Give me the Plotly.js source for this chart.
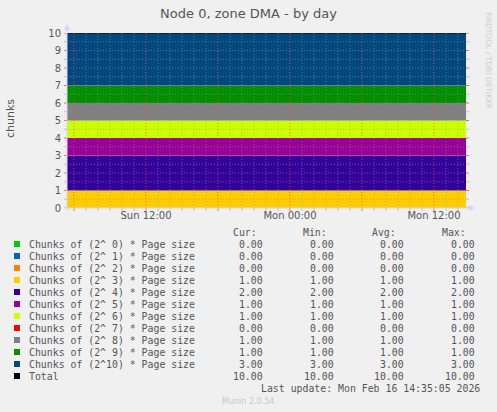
<!DOCTYPE html>
<html>
<head>
<meta charset="utf-8">
<script src="https://cdn.plot.ly/plotly-3.0.1.min.js"></script>
<style>
html,body{margin:0;padding:0;background:#F0F0F0;}
#chart{width:497px;height:412px;}
</style>
</head>
<body>
<div id="chart"></div>
<script>
// ---- data ----
const times = ["2026-02-15 05:25", "2026-02-16 14:40"];
const seriesLabels = [
  "Chunks of (2^ 0) * Page size",
  "Chunks of (2^ 1) * Page size",
  "Chunks of (2^ 2) * Page size",
  "Chunks of (2^ 3) * Page size",
  "Chunks of (2^ 4) * Page size",
  "Chunks of (2^ 5) * Page size",
  "Chunks of (2^ 6) * Page size",
  "Chunks of (2^ 7) * Page size",
  "Chunks of (2^ 8) * Page size",
  "Chunks of (2^ 9) * Page size",
  "Chunks of (2^10) * Page size"
];
const seriesColors = ["#00CC00","#0066B3","#FF8000","#FFCC00","#330099","#990099","#CCFF00","#FF0000","#808080","#008F00","#00487D"];
const order0  = [0, 0];
const order1  = [0, 0];
const order2  = [0, 0];
const order3  = [1, 1];
const order4  = [2, 2];
const order5  = [1, 1];
const order6  = [1, 1];
const order7  = [0, 0];
const order8  = [1, 1];
const order9  = [1, 1];
const order10 = [3, 3];
const totalValues = [10, 10];
const curValues = ["0.00","0.00","0.00","1.00","2.00","1.00","1.00","0.00","1.00","1.00","3.00","10.00"];
const minValues = ["0.00","0.00","0.00","1.00","2.00","1.00","1.00","0.00","1.00","1.00","3.00","10.00"];
const avgValues = ["0.00","0.00","0.00","1.00","2.00","1.00","1.00","0.00","1.00","1.00","3.00","10.00"];
const maxValues = ["0.00","0.00","0.00","1.00","2.00","1.00","1.00","0.00","1.00","1.00","3.00","10.00"];
const tickVals = ["2026-02-15 12:00", "2026-02-16 00:00", "2026-02-16 12:00"];
const tickLabels = ["Sun 12:00", "Mon 00:00", "Mon 12:00"];
const yTicks = [0,1,2,3,4,5,6,7,8,9,10];

// ---- layout helpers ----
const W = 497, H = 412;
const L = 67, R = 466, T = 33, B = 208;
const px = p => (p - L) / (R - L);
const py = p => (B - p) / (B - T);
const FONT = "DejaVu Sans, sans-serif";
const MONO = "DejaVu Sans Mono, monospace";
const TXT = "#555555";
const MS = 9.85;

const seriesData = [order0, order1, order2, order3, order4, order5, order6, order7, order8, order9, order10];

const traces = seriesData.map((vals, i) => ({
  x: times, y: vals, type: "scatter", mode: "lines",
  stackgroup: "one", line: {width: 0, color: seriesColors[i]},
  fillcolor: seriesColors[i], name: seriesLabels[i], hoverinfo: "skip"
}));
traces.push({
  x: times, y: totalValues, type: "scatter", mode: "lines",
  line: {width: 1.2, color: "#000000"}, name: "Total", hoverinfo: "skip"
});

// ---- grid shapes drawn above the areas ----
const shapes = [];
const startH = new Date(2026, 1, 15, 6, 0, 0);
for (let h = 0; h <= 32; h++) {
  const d = new Date(startH.getTime() + h * 3600000);
  const s = d.getFullYear() + "-" + String(d.getMonth()+1).padStart(2,"0") + "-" +
            String(d.getDate()).padStart(2,"0") + " " + String(d.getHours()).padStart(2,"0") + ":00";
  const major = d.getHours() % 6 === 0;
  shapes.push({type:"line", xref:"x", yref:"paper", x0:s, x1:s, y0:0, y1:1, layer:"above",
    line:{color: major ? "rgba(255,70,70,0.75)" : "rgba(150,150,150,0.6)", width:1, dash:"1px,2px"}});
  shapes.push({type:"line", xref:"x", yref:"paper", x0:s, x1:s, y0:py(208), y1:py(211), layer:"above",
    line:{color: major ? "rgba(255,70,70,0.8)" : "rgba(170,170,190,0.7)", width:1}});
}
for (let k = 1; k <= 19; k++) {
  const yv = k * 0.5;
  shapes.push({type:"line", xref:"paper", yref:"y", x0:0, x1:1, y0:yv, y1:yv, layer:"above",
    line:{color:"rgba(150,150,150,0.6)", width:1, dash:"1px,2px"}});
}
for (let k = 0; k <= 20; k++) {
  const yv = k * 0.5, major = k % 2 === 0;
  const col = major ? "rgba(255,70,70,0.8)" : "rgba(170,170,190,0.7)";
  shapes.push({type:"line", xref:"paper", yref:"y", x0:px(64), x1:px(67), y0:yv, y1:yv, layer:"above", line:{color:col, width:1}});
  shapes.push({type:"line", xref:"paper", yref:"y", x0:px(466), x1:px(469), y0:yv, y1:yv, layer:"above", line:{color:col, width:1}});
}
// axis lines and arrows
shapes.push({type:"line", xref:"paper", yref:"paper", x0:0, x1:0, y0:py(211), y1:py(29), layer:"above", line:{color:"#CFD6F8", width:1}});
shapes.push({type:"line", xref:"paper", yref:"paper", x0:px(64), x1:px(470), y0:0, y1:0, layer:"above", line:{color:"#CFD6F8", width:1}});
shapes.push({type:"path", xref:"paper", yref:"paper", layer:"above",
  path:"M " + px(64) + " " + py(30) + " L " + px(70) + " " + py(30) + " L " + px(67) + " " + py(24) + " Z",
  fillcolor:"#CFD6F8", line:{width:0}});
shapes.push({type:"path", xref:"paper", yref:"paper", layer:"above",
  path:"M " + px(469) + " " + py(205) + " L " + px(469) + " " + py(211) + " L " + px(475) + " " + py(208) + " Z",
  fillcolor:"#CFD6F8", line:{width:0}});

// ---- legend table ----
const annotations = [];
const rowY = i => 244 + 12 * i;
const colRight = [265, 336, 406, 477];
const headRight = [259, 329, 398, 468];
const heads = ["Cur:", "Min:", "Avg:", "Max:"];
heads.forEach((h, j) => annotations.push({
  xref:"paper", yref:"paper", x:px(headRight[j]), y:py(232), xanchor:"right", yanchor:"middle",
  text:h, showarrow:false, font:{family:MONO, size:MS, color:TXT}
}));
const allLabels = seriesLabels.concat(["Total"]);
const allColors = seriesColors.concat(["#000000"]);
allLabels.forEach((lab, i) => {
  const y = rowY(i);
  shapes.push({type:"rect", xref:"paper", yref:"paper", x0:px(14), x1:px(20), y0:py(y+3), y1:py(y-3),
    fillcolor:allColors[i], line:{width:0}});
  annotations.push({xref:"paper", yref:"paper", x:px(27), y:py(y), xanchor:"left", yanchor:"middle",
    text:lab, showarrow:false, font:{family:MONO, size:MS, color:TXT}});
  [curValues, minValues, avgValues, maxValues].forEach((arr, j) => annotations.push({
    xref:"paper", yref:"paper", x:px(colRight[j]), y:py(y), xanchor:"right", yanchor:"middle",
    text:arr[i], showarrow:false, font:{family:MONO, size:MS, color:TXT}
  }));
});
annotations.push({xref:"paper", yref:"paper", x:px(482), y:py(388), xanchor:"right", yanchor:"middle",
  text:"Last update: Mon Feb 16 14:35:05 2026", showarrow:false, font:{family:MONO, size:MS, color:TXT}});
annotations.push({xref:"paper", yref:"paper", x:px(248), y:py(401), xanchor:"center", yanchor:"middle",
  text:"Munin 2.0.54", showarrow:false, font:{family:FONT, size:8, color:"#C8C8C8"}});
annotations.push({xref:"paper", yref:"paper", x:px(10), y:py(119), xanchor:"center", yanchor:"middle",
  text:"chunks", textangle:-90, showarrow:false, font:{family:FONT, size:11, color:TXT}});
annotations.push({xref:"paper", yref:"paper", x:px(488), y:py(60.5), xanchor:"center", yanchor:"middle",
  text:"RRDTOOL / TOBI OETIKER", textangle:90, showarrow:false, font:{family:FONT, size:7.5, color:"#CCCCCC"}});

const layout = {
  width: W, height: H,
  paper_bgcolor: "#F0F0F0", plot_bgcolor: "#FFFFFF",
  margin: {l: L, r: W - R, t: T, b: H - B, pad: 0},
  showlegend: false,
  title: {text: "Node 0, zone DMA - by day", font: {family: FONT, size: 13, color: TXT},
          x: 0.5, xref: "container", xanchor: "center", y: 1 - 13 / H, yanchor: "middle"},
  xaxis: {type: "date", range: [times[0], times[1]], tickvals: tickVals, ticktext: tickLabels,
          showgrid: false, zeroline: false, showline: false, ticks: "",
          tickfont: {family: FONT, size: 10, color: TXT}, fixedrange: true},
  yaxis: {range: [0, 10], tickvals: yTicks, ticktext: yTicks.map(String),
          showgrid: false, zeroline: false, showline: false, ticks: "", ticklabelstandoff: 5,
          tickfont: {family: FONT, size: 10, color: TXT}, fixedrange: true},
  shapes: shapes,
  annotations: annotations
};

Plotly.newPlot("chart", traces, layout, {staticPlot: true, displayModeBar: false});
</script>
</body>
</html>
